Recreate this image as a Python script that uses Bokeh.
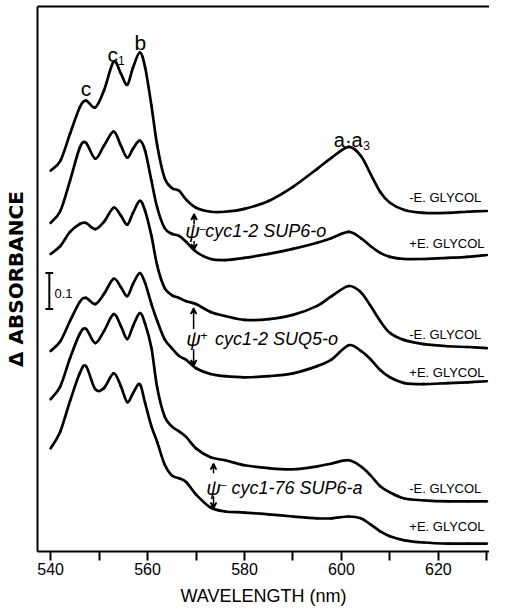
from bokeh.plotting import figure
from bokeh.models import Range1d, LinearAxis, FixedTicker, Arrow, VeeHead, Label
from bokeh.embed import file_html
from bokeh.resources import INLINE

# ---- data ----
wavelength = [540, 542, 544, 546, 547.3, 549.2, 551, 553, 554.5, 555.8, 557, 558.4, 559.5,
              560.8, 562, 563.5, 565, 566.5, 568, 570, 573, 576, 580, 585, 590, 595, 598,
              601.5, 604, 606, 608, 610, 613, 617, 622, 626, 630]

sup6_o_minus_eg = [1.056, 1.083, 1.158, 1.231, 1.250, 1.231, 1.278, 1.358, 1.325, 1.294, 1.342,
                   1.383, 1.342, 1.236, 1.125, 1.036, 1.008, 1.000, 0.975, 0.953, 0.942, 0.942,
                   0.950, 0.972, 1.011, 1.061, 1.092, 1.122, 1.097, 1.047, 0.997, 0.967, 0.947,
                   0.939, 0.939, 0.942, 0.944]
sup6_o_plus_eg = [0.911, 0.944, 1.028, 1.119, 1.133, 1.089, 1.125, 1.164, 1.125, 1.092, 1.117,
                  1.139, 1.111, 1.028, 0.953, 0.897, 0.881, 0.875, 0.858, 0.831, 0.811, 0.808,
                  0.814, 0.825, 0.839, 0.856, 0.869, 0.886, 0.869, 0.847, 0.828, 0.817, 0.811,
                  0.811, 0.814, 0.817, 0.822]
suq5_o_minus_eg = [0.825, 0.847, 0.886, 0.908, 0.911, 0.894, 0.914, 0.953, 0.931, 0.906, 0.939,
                   0.972, 0.944, 0.875, 0.792, 0.731, 0.711, 0.703, 0.694, 0.686, 0.664, 0.653,
                   0.642, 0.644, 0.656, 0.681, 0.708, 0.736, 0.719, 0.681, 0.639, 0.606, 0.586,
                   0.575, 0.569, 0.567, 0.564]
suq5_o_plus_eg = [0.556, 0.583, 0.639, 0.692, 0.703, 0.686, 0.714, 0.756, 0.733, 0.708, 0.742,
                  0.772, 0.744, 0.686, 0.639, 0.589, 0.564, 0.542, 0.531, 0.508, 0.492, 0.486,
                  0.483, 0.486, 0.494, 0.514, 0.533, 0.572, 0.556, 0.533, 0.503, 0.483, 0.467,
                  0.464, 0.467, 0.469, 0.472]
c76_minus_eg = [0.422, 0.458, 0.536, 0.603, 0.617, 0.578, 0.611, 0.658, 0.625, 0.589, 0.625,
                0.661, 0.631, 0.564, 0.453, 0.375, 0.347, 0.333, 0.317, 0.286, 0.261, 0.253,
                0.239, 0.231, 0.228, 0.236, 0.244, 0.253, 0.236, 0.211, 0.181, 0.164, 0.147,
                0.142, 0.139, 0.139, 0.139]
c76_plus_eg = [0.286, 0.333, 0.417, 0.494, 0.514, 0.450, 0.453, 0.494, 0.458, 0.414, 0.439,
               0.464, 0.411, 0.347, 0.303, 0.242, 0.211, 0.203, 0.192, 0.158, 0.122, 0.111,
               0.108, 0.103, 0.097, 0.092, 0.092, 0.097, 0.092, 0.075, 0.056, 0.042, 0.031,
               0.025, 0.022, 0.022, 0.022]

series = [sup6_o_minus_eg, sup6_o_plus_eg, suq5_o_minus_eg, suq5_o_plus_eg,
          c76_minus_eg, c76_plus_eg]
right_labels = ["-E. GLYCOL", "+E. GLYCOL", "-E. GLYCOL", "+E. GLYCOL", "-E. GLYCOL", "+E. GLYCOL"]
right_label_y = [0.981, 0.853, 0.603, 0.497, 0.175, 0.069]

major_ticks = [540, 560, 580, 600, 620]
minor_ticks = [550, 570, 590, 610, 630]

FONT = "Liberation Sans"

p = figure(width=489, height=608, output_backend="svg", toolbar_location=None,
           x_range=Range1d(537.29, 630.55), y_range=Range1d(0, 1.511),
           min_border_left=32, min_border_right=0, min_border_top=6, min_border_bottom=53,
           x_axis_location=None, y_axis_location=None)
p.outline_line_color = None
p.xgrid.visible = False
p.ygrid.visible = False
p.background_fill_color = "white"
p.border_fill_color = "white"

xaxis = LinearAxis(ticker=FixedTicker(ticks=major_ticks, minor_ticks=minor_ticks),
                   axis_label="WAVELENGTH (nm)")
xaxis.axis_line_width = 2
xaxis.major_tick_line_width = 2
xaxis.minor_tick_line_width = 2
xaxis.major_tick_out = 9
xaxis.major_tick_in = 0
xaxis.minor_tick_out = 9
xaxis.minor_tick_in = 0
xaxis.major_label_text_font = FONT
xaxis.major_label_text_font_size = "16px"
xaxis.major_label_text_color = "black"
xaxis.major_label_standoff = 2
xaxis.axis_label_text_font = FONT
xaxis.axis_label_text_font_size = "18px"
xaxis.axis_label_text_font_style = "normal"
xaxis.axis_label_text_color = "black"
xaxis.axis_label_standoff = 8
p.add_layout(xaxis, "below")

yaxis = LinearAxis(ticker=FixedTicker(ticks=[]), axis_label="\u0394 ABSORBANCE")
yaxis.axis_line_width = 2
yaxis.major_tick_out = 0
yaxis.major_tick_in = 0
yaxis.minor_tick_out = 0
yaxis.minor_tick_in = 0
yaxis.major_label_text_font_size = "0px"
yaxis.axis_label_text_font = "DejaVu Sans"
yaxis.axis_label_text_font_size = "20px"
yaxis.axis_label_text_font_style = "bold"
yaxis.axis_label_text_color = "black"
yaxis.axis_label_standoff = 10
p.add_layout(yaxis, "left")

top = LinearAxis(ticker=FixedTicker(ticks=[]))
top.axis_line_width = 2
top.major_tick_out = 0
top.major_tick_in = 0
top.minor_tick_out = 0
top.minor_tick_in = 0
top.major_label_text_font_size = "0px"
p.add_layout(top, "above")

# smooth rendering of each spectrum: cubic Bezier pieces through the read points
n = len(wavelength)
for s in series:
    x0s, y0s, x1s, y1s, cx0s, cy0s, cx1s, cy1s = [], [], [], [], [], [], [], []
    for i in range(n - 1):
        im = max(i - 1, 0)
        ip = min(i + 2, n - 1)
        x0s.append(wavelength[i]); y0s.append(s[i])
        x1s.append(wavelength[i + 1]); y1s.append(s[i + 1])
        cx0s.append(wavelength[i] + (wavelength[i + 1] - wavelength[im]) / 6.0)
        cy0s.append(s[i] + (s[i + 1] - s[im]) / 6.0)
        cx1s.append(wavelength[i + 1] - (wavelength[ip] - wavelength[i]) / 6.0)
        cy1s.append(s[i + 1] - (s[ip] - s[i]) / 6.0)
    p.bezier(x0=x0s, y0=y0s, x1=x1s, y1=y1s, cx0=cx0s, cy0=cy0s, cx1=cx1s, cy1=cy1s,
             line_color="black", line_width=2.7, line_cap="round")


def lab(x, y, text, size="16px", align="left", style="normal", font=FONT):
    p.add_layout(Label(x=x, y=y, text=text, text_font=font, text_font_size=size,
                       text_align=align, text_baseline="middle", text_font_style=style,
                       text_color="black"))


# right-hand labels
for t, yy in zip(right_labels, right_label_y):
    lab(614.0, yy, t, size="13px")

# peak labels
lab(547.3, 1.283, "c", size="21px", align="center")
lab(552.8, 1.378, "c", size="21px", align="center")
lab(554.6, 1.360, "1", size="12px", align="center")
lab(558.5, 1.411, "b", size="21px", align="center")
lab(601.4, 1.142, "a\u00b7a", size="20px", align="center")
lab(605.2, 1.126, "3", size="12px", align="center")

# strain labels
lab(569.3, 0.889, "\u03c8", size="20px", align="center", style="italic")
lab(570.7, 0.897, "\u2013", size="11px", align="left")
lab(571.9, 0.889, "cyc1-2 SUP6-o", size="18px", style="italic")

lab(569.5, 0.589, "\u03c8", size="20px", align="center", style="italic")
lab(570.9, 0.600, "+", size="12px", align="left")
lab(573.9, 0.589, "cyc1-2 SUQ5-o", size="18px", style="italic")

lab(573.6, 0.175, "\u03c8", size="20px", align="center", style="italic")
lab(575.0, 0.186, "\u2013", size="11px", align="left")
lab(577.3, 0.175, "cyc1-76 SUP6-a", size="18px", style="italic")

# double arrows
arrows = [(569.6, 0.908, 0.936, 0.861, 0.836),
          (569.5, 0.617, 0.675, 0.561, 0.514),
          (573.6, 0.217, 0.244, 0.153, 0.119)]
for ax, t0, t1, b0, b1 in arrows:
    p.add_layout(Arrow(end=VeeHead(size=6, line_width=1.5, fill_color="black"),
                       x_start=ax, y_start=t0, x_end=ax, y_end=t1, line_width=1.5))
    p.add_layout(Arrow(end=VeeHead(size=6, line_width=1.5, fill_color="black"),
                       x_start=ax, y_start=b0, x_end=ax, y_end=b1, line_width=1.5))

# 0.1 absorbance scale bar
scale_x = 539.73
scale_lo = 0.672
scale_len = 0.1
p.segment([scale_x, scale_x - 0.8, scale_x - 0.8],
          [scale_lo, scale_lo, scale_lo + scale_len],
          [scale_x, scale_x + 0.8, scale_x + 0.8],
          [scale_lo + scale_len, scale_lo, scale_lo + scale_len],
          line_color="black", line_width=2)
lab(540.8, scale_lo + scale_len / 2 - 0.008, "0.1", size="13px")

open("out.html", "w").write(file_html(p, INLINE))
